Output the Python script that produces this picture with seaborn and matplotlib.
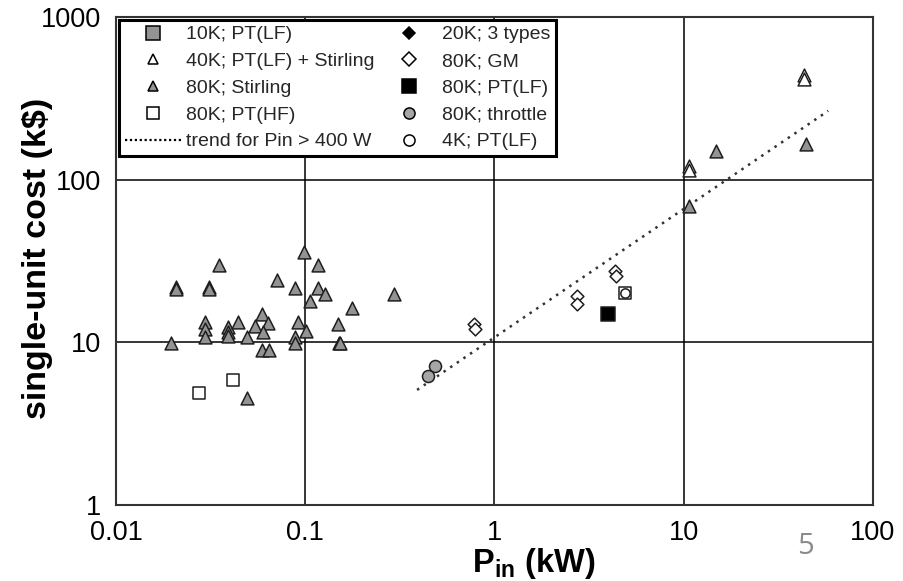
import matplotlib
matplotlib.use("Agg")
import matplotlib.pyplot as plt
from matplotlib.lines import Line2D
from matplotlib.ticker import FixedLocator, FixedFormatter, NullLocator
import seaborn as sns
import pandas as pd

# ---------------- data ----------------
stirling80_x = [0.0985, 0.117, 0.0352, 0.0207, 0.0207, 0.0311, 0.0311, 0.0711, 0.0883,
                0.117, 0.127, 0.106, 0.2955, 0.176, 0.0589, 0.0295, 0.0295, 0.0295,
                0.0392, 0.0392, 0.0392, 0.0443, 0.0543, 0.0638, 0.0596, 0.0491, 0.0919,
                0.1008, 0.0883, 0.0883, 0.1485, 0.150, 0.153, 0.0195, 0.0589, 0.0645,
                0.0491, 14.8, 44.1, 10.7]
stirling80_y = [36, 30, 30, 22, 21.3, 22, 21.3, 24, 21.5,
                21.5, 19.8, 17.9, 19.8, 16.3, 14.9, 13.4, 12.1, 10.8,
                12.5, 11.6, 10.9, 13.4, 12.6, 13.2, 11.6, 10.8, 13.4,
                11.8, 10.8, 9.85, 12.9, 9.85, 9.85, 9.85, 8.96, 8.96,
                4.52, 150, 165, 69]
stirling40_x = [43.4, 43.4, 10.7, 10.7]
stirling40_y = [440, 415, 122, 114]
hf80_x = [0.0414, 0.0275, 4.89]
hf80_y = [5.86, 4.90, 20.0]
pt4_x = [4.89]
pt4_y = [20.0]
gm80_x = [0.78, 0.79, 2.74, 2.74, 4.33, 4.38]
gm80_y = [12.9, 12.0, 19.3, 17.2, 27.5, 25.6]
ptlf80_x = [3.99]
ptlf80_y = [14.9]
throttle_x = [0.485, 0.447]
throttle_y = [7.15, 6.2]
trend_x = [0.39, 58]
trend_y = [5.1, 265]

x_ticks = [0.01, 0.1, 1, 10, 100]
x_ticklabels = ["0.01", "0.1", "1", "10", "100"]
y_ticks = [1, 10, 100, 1000]
y_ticklabels = ["1", "10", "100", "1000"]

legend_labels = ["10K; PT(LF)", "40K; PT(LF) + Stirling", "80K; Stirling", "80K; PT(HF)",
                 "trend for Pin > 400 W", "20K; 3 types", "80K; GM", "80K; PT(LF)",
                 "80K; throttle", "4K; PT(LF)"]

# ---------------- style ----------------
sns.set_theme(style="white")
plt.rcParams["font.family"] = ["Liberation Sans", "DejaVu Sans"]
plt.rcParams["mathtext.fontset"] = "custom"
plt.rcParams["mathtext.rm"] = "Liberation Sans"
plt.rcParams["mathtext.bf"] = "Liberation Sans:bold"
plt.rcParams["mathtext.it"] = "Liberation Sans:italic"

fig = plt.figure(figsize=(9.04, 5.81), dpi=100)
ax = fig.add_axes([116 / 904, 1 - 505 / 581, 757 / 904, 488 / 581])

GRAY = "#939393"
EDGE = "#1e1e1e"

def pts(xs, ys, name):
    return pd.DataFrame({"x": xs, "y": ys, "series": name})

series = [
    (pts(stirling80_x, stirling80_y, "80K; Stirling"), dict(marker="^", color=GRAY, s=85)),
    (pts(stirling40_x, stirling40_y, "40K; PT(LF) + Stirling"), dict(marker="^", color="white", s=85)),
    (pts(hf80_x, hf80_y, "80K; PT(HF)"), dict(marker="s", color="white", s=70)),
    (pts(pt4_x, pt4_y, "4K; PT(LF)"), dict(marker="o", color="white", s=45)),
    (pts(gm80_x, gm80_y, "80K; GM"), dict(marker="D", color="white", s=42)),
    (pts(ptlf80_x, ptlf80_y, "80K; PT(LF)"), dict(marker="s", color="black", s=100)),
    (pts(throttle_x, throttle_y, "80K; throttle"), dict(marker="o", color="#a6a6a6", s=75)),
]

sns.lineplot(x=trend_x, y=trend_y, ax=ax, color="#333333", linestyle=(0, (1, 2.2)),
             linewidth=1.8, zorder=2)

for df, kw in series:
    sns.scatterplot(data=df, x="x", y="y", ax=ax, marker=kw["marker"], color=kw["color"],
                    s=kw["s"], edgecolor=EDGE, linewidth=1.1, legend=False, zorder=3)

ax.set_xscale("log")
ax.set_yscale("log")
ax.set_xlim(0.01, 100)
ax.set_ylim(1, 1000)
ax.xaxis.set_major_locator(FixedLocator(x_ticks))
ax.xaxis.set_major_formatter(FixedFormatter(x_ticklabels))
ax.yaxis.set_major_locator(FixedLocator(y_ticks))
ax.yaxis.set_major_formatter(FixedFormatter(y_ticklabels))
ax.xaxis.set_minor_locator(NullLocator())
ax.yaxis.set_minor_locator(NullLocator())
ax.grid(True, which="major", color="black", linewidth=1.1)
ax.set_axisbelow(True)
ax.tick_params(axis="both", length=0, labelsize=19.5, colors="black")
ax.tick_params(axis="x", pad=11)
ax.tick_params(axis="y", pad=11)
for sp in ax.spines.values():
    sp.set_color("#333333")
    sp.set_linewidth(1.5)

ax.set_xlabel(r"$\mathbf{P}_{\mathbf{in}}$ (kW)", fontsize=23.5, fontweight="bold", color="black")
ax.xaxis.set_label_coords(0.552, -0.083)
ax.set_ylabel("single-unit cost (k$)", fontsize=24.5, fontweight="bold", color="black")
ax.yaxis.set_label_coords(-0.083, 0.505)

# ---------------- legend ----------------
def h(marker=None, fc="white", ms=8, ls="none"):
    return Line2D([], [], marker=marker, markerfacecolor=fc, markeredgecolor="black",
                  markersize=ms, markeredgewidth=1.1, linestyle=ls, color="black")

handles = [
    h("s", GRAY, 9.5),
    h("^", "white", 6.5),
    h("^", GRAY, 7),
    h("s", "white", 9),
    Line2D([], [], color="black", linestyle=(0, (1, 1.2)), linewidth=1.6),
    h("D", "black", 6.5),
    h("D", "white", 7),
    h("s", "black", 10),
    h("o", "#a6a6a6", 8),
    h("o", "white", 8),
]
leg = ax.legend(handles, legend_labels, ncol=2, loc="upper left", bbox_to_anchor=(0.0, 1.0),
                fontsize=14, frameon=True, fancybox=False, framealpha=1, edgecolor="black",
                borderpad=0.3, labelspacing=0.47, handlelength=2.9, handletextpad=0.25,
                columnspacing=0.3, borderaxespad=0.15)
leg.get_frame().set_linewidth(2.2)
leg.set_zorder(5)

fig.text(805 / 904, 1 - 547 / 581, "5", fontsize=21, color="#8a8a8a", ha="center", va="center",
         family=["Open Sans", "DejaVu Sans"])

fig.savefig("out.png", dpi=100)
